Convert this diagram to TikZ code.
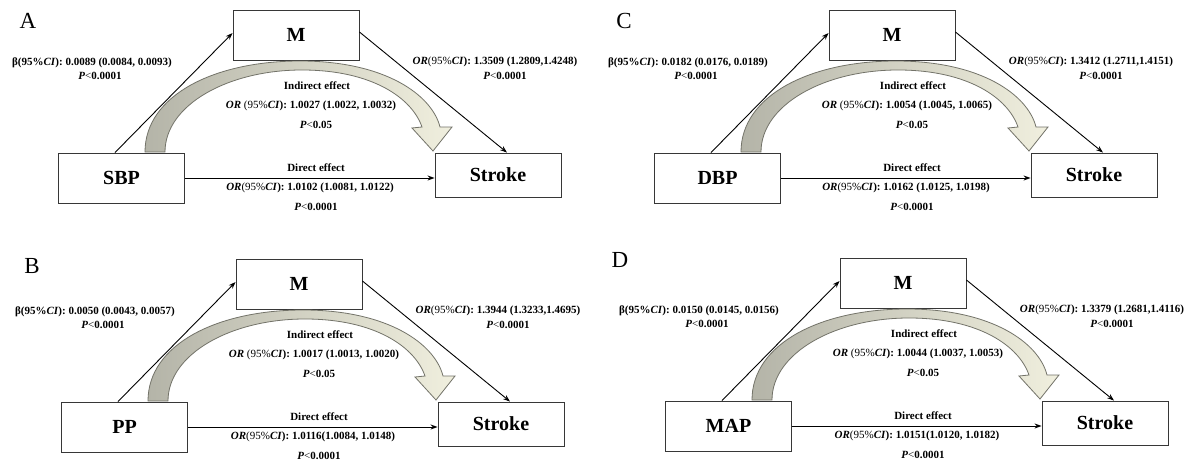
\documentclass[tikz,border=0pt]{standalone}
\usepackage{fontspec}
\setmainfont{Liberation Serif}
\usetikzlibrary{arrows.meta}
\definecolor{boxline}{RGB}{55,55,55}
\definecolor{arrowL}{RGB}{180,180,168}
\definecolor{arrowR}{RGB}{240,239,222}
\definecolor{arrowedge}{RGB}{115,115,105}
\tikzset{
  varbox/.style={draw=boxline, line width=0.9pt, minimum width=126pt, minimum height=50pt, inner sep=0pt, font=\fontsize{20}{24}\selectfont\bfseries},
  strokebox/.style={varbox, minimum height=44pt},
  lbl/.style={font=\fontsize{11}{13}\selectfont\bfseries, inner sep=0pt},
  conn/.style={line width=0.9pt, -{Stealth[length=7pt,width=5pt]}},
  blockarrow/.style={draw=arrowedge, line width=0.8pt, left color=arrowL, right color=arrowR},
  panelletter/.style={font=\fontsize{23}{26}\selectfont, inner sep=0pt}
}
\newcommand\myOR{\textbf{\textit{OR}}}
\newcommand\myCI{\textbf{\textit{CI}}}
\newcommand\myP{\textbf{\textit{P}}}
% #1 shift, #2 prefix, #3 exposure, #4 beta, #5 OR M-S, #6 indirect, #7 direct
\newcommand\mypanel[7]{%
\begin{scope}[shift={(#1)}]
  \node[varbox] (#2X) at (121.5,178) {#3};
  \node[varbox] (#2M) at (296,35) {M};
  \node[strokebox] (#2S) at (498,175) {Stroke};
  \draw[blockarrow] (145,152) .. controls (145,95) and (215,61) .. (300,61)
     .. controls (385,61) and (432,95) .. (440,127) -- (452,127) -- (433,151)
     -- (412,128) -- (422,127) .. controls (412,98) and (372,70) .. (302,70)
     .. controls (228,70) and (165,105) .. (165,152) -- cycle;
  \draw[conn] ([xshift=-6.5pt]#2X.north) -- ([yshift=2pt]#2M.west);
  \draw[conn] ([yshift=3pt]#2M.east) -- ([xshift=9pt]#2S.north);
  \draw[conn] (#2X.east) -- (#2S.west |- #2X.east);
  \node[lbl] (#2b1) at (92,63) {β(95\%\myCI): #4};
  \node[lbl] (#2b2) at (100,76) {\myP\textmd{<}0.0001};
  \node[lbl] (#2o1) at (495,62) {\myOR\textmd{(95\%}\myCI): #5};
  \node[lbl] (#2o2) at (505,76) {\myP\textmd{<}0.0001};
  \node[lbl] (#2i1) at (317,86) {Indirect effect};
  \node[lbl] (#2i2) at (311,106) {\myOR\ \textmd{(95\%}\myCI): #6};
  \node[lbl] (#2i3) at (316,125) {\myP\textmd{<}0.05};
  \node[lbl] (#2d1) at (316,168) {Direct effect};
  \node[lbl] (#2d2) at (310,188) {\myOR\textmd{(95\%}\myCI): #7};
  \node[lbl] (#2d3) at (316,207) {\myP\textmd{<}0.0001};
\end{scope}}
\begin{document}
\begin{tikzpicture}[x=1pt,y=-1pt]
\useasboundingbox[fill=white] (0,0) rectangle (1189,463);
\node[panelletter] (LA) at (28,21) {A};
\node[panelletter] (LB) at (32,266) {B};
\node[panelletter] (LC) at (624,21) {C};
\node[panelletter] (LD) at (620,260) {D};
\mypanel{0,0}{A}{SBP}{0.0089 (0.0084, 0.0093)}{1.3509 (1.2809,1.4248)}{1.0027 (1.0022, 1.0032)}{1.0102 (1.0081, 1.0122)}
\mypanel{3,249}{B}{PP}{0.0050 (0.0043, 0.0057)}{1.3944 (1.3233,1.4695)}{1.0017 (1.0013, 1.0020)}{1.0116(1.0084, 1.0148)}
\mypanel{596,0}{C}{DBP}{0.0182 (0.0176, 0.0189)}{1.3412 (1.2711,1.4151)}{1.0054 (1.0045, 1.0065)}{1.0162 (1.0125, 1.0198)}
\mypanel{607,248}{D}{MAP}{0.0150 (0.0145, 0.0156)}{1.3379 (1.2681,1.4116)}{1.0044 (1.0037, 1.0053)}{1.0151(1.0120, 1.0182)}
\end{tikzpicture}
\end{document}
